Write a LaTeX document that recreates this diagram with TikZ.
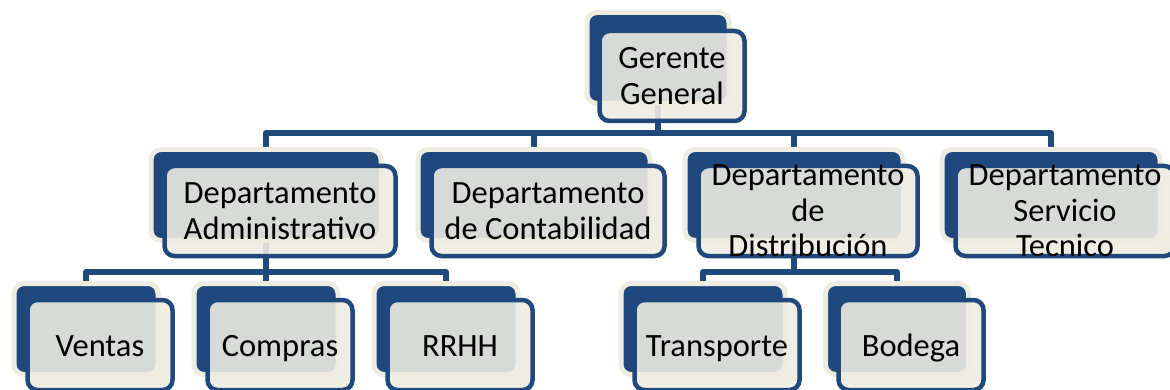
\documentclass[tikz,border=0pt]{standalone}
\usepackage{fontspec}
\setmainfont{Carlito}
\usetikzlibrary{positioning,backgrounds}
\definecolor{orgblue}{RGB}{31,73,125}
\definecolor{orgcream}{RGB}{238,236,225}
\begin{document}
\begin{tikzpicture}[x=1pt,y=-1pt,
    back/.style={draw=orgcream,line width=5pt,fill=orgblue,rounded corners=10pt,
      inner sep=0pt,minimum height=91pt},
    front/.style={draw=orgblue,line width=4.5pt,fill=orgcream,fill opacity=0.89,
      rounded corners=10pt,inner sep=0pt,minimum height=90pt},
    txt/.style={align=center,inner sep=0pt,font=\fontsize{32.5}{35.5}\selectfont},
    leaf/.style={txt,anchor=base},
    link/.style={draw=orgblue,line width=6pt,line join=round}]
  \useasboundingbox (0,0) rectangle (1170,390);
  \coordinate (top) at (0,133);
  \coordinate (low) at (0,272);
  % back boxes
  \node[back,minimum width=142pt] (gg) at (658,58) {};
  \node[back,minimum width=230pt] (adm) at (266,195) {};
  \node[back,minimum width=232pt] (con) at (534,195) {};
  \node[back,minimum width=218pt] (dis) at (794,195) {};
  \node[back,minimum width=218pt] (ser) at (1051,195) {};
  \node[back,minimum width=144pt] (ven) at (86,329) {};
  \node[back,minimum width=144pt] (com) at (266,329) {};
  \node[back,minimum width=144pt] (rrh) at (446,329) {};
  \node[back,minimum width=164pt] (tra) at (703,329) {};
  \node[back,minimum width=143pt] (bod) at (897,329) {};
  % front boxes
  \node[front,minimum width=145pt] (gg-f) at ([shift={(14,18)}]gg) {};
  \node[front,minimum width=231pt] (adm-f) at ([shift={(14,16)}]adm) {};
  \node[front,minimum width=233pt] (con-f) at ([shift={(14,16)}]con) {};
  \node[front,minimum width=219pt] (dis-f) at ([shift={(14,16)}]dis) {};
  \node[front,minimum width=219pt] (ser-f) at ([shift={(14,16)}]ser) {};
  \node[front,minimum width=145pt] (ven-f) at ([shift={(14,16)}]ven) {};
  \node[front,minimum width=145pt] (com-f) at ([shift={(14,16)}]com) {};
  \node[front,minimum width=145pt] (rrh-f) at ([shift={(14,16)}]rrh) {};
  \node[front,minimum width=165pt] (tra-f) at ([shift={(14,16)}]tra) {};
  \node[front,minimum width=145pt] (bod-f) at ([shift={(14,16)}]bod) {};
  % texts
  \node[txt] (gg-t) at (gg-f) {Gerente\\General};
  \node[txt] (adm-t) at (adm-f) {Departamento\\Administrativo};
  \node[txt] (con-t) at (con-f) {Departamento\\de Contabilidad};
  \node[txt] (dis-t) at (dis-f) {Departamento\\de\\Distribución};
  \node[txt] (ser-t) at (ser-f) {Departamento\\Servicio\\Tecnico};
  \node[leaf] (ven-t) at ([yshift=-11pt]ven-f) {Ventas};
  \node[leaf] (com-t) at ([yshift=-11pt]com-f) {Compras};
  \node[leaf] (rrh-t) at ([yshift=-11pt]rrh-f) {RRHH};
  \node[leaf] (tra-t) at ([yshift=-11pt]tra-f) {Transporte};
  \node[leaf] (bod-t) at ([yshift=-11pt]bod-f) {Bodega};
  \begin{scope}[on background layer]
    \draw[link] (gg.south) -- (gg.south |- top) -| (adm.north);
    \draw[link] (gg.south |- top) -| (con.north);
    \draw[link] (gg.south |- top) -| (dis.north);
    \draw[link] (gg.south |- top) -| (ser.north);
    \draw[link] (adm.south) -- (adm.south |- low) -| (ven.north);
    \draw[link] (adm.south |- low) -- (com.north);
    \draw[link] (adm.south |- low) -| (rrh.north);
    \draw[link] (dis.south) -- (dis.south |- low) -| (tra.north);
    \draw[link] (dis.south |- low) -| (bod.north);
  \end{scope}
\end{tikzpicture}
\end{document}
